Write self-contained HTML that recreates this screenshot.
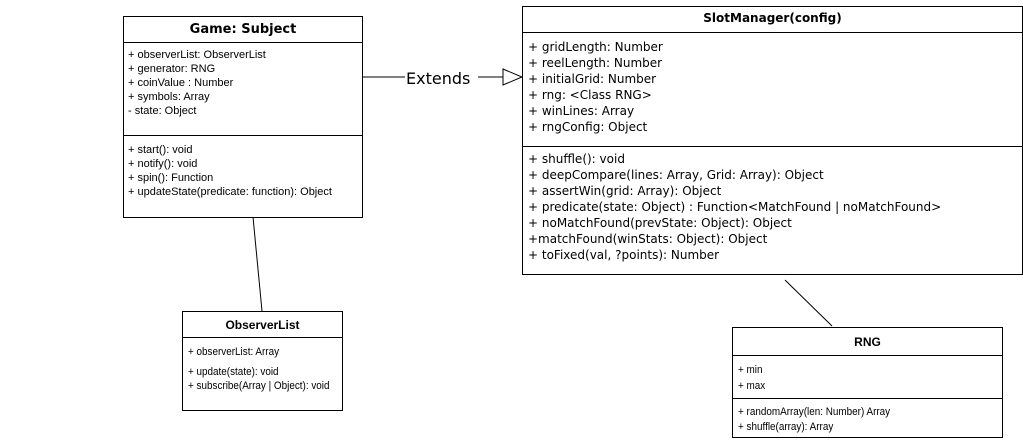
<!DOCTYPE html>
<html><head><meta charset="utf-8"><style>
body{margin:0;width:1023px;height:440px;background:#fff;position:relative;overflow:hidden;font-family:"Liberation Sans",sans-serif;color:#000}
.b{position:absolute;border:1px solid #000;background:#fff;box-sizing:border-box;overflow:hidden}
.h{position:absolute;left:0;right:0;border-top:1px solid #000}
.t{position:absolute;white-space:nowrap}
.s{font-size:11px;line-height:14px}
.v{font-family:"DejaVu Sans",sans-serif;font-size:12px;line-height:16px}
.n{font-family:"Liberation Sans",sans-serif;font-size:11px;line-height:14px;transform:scaleX(0.9);transform-origin:0 0}
</style></head><body>
<svg width="1023" height="440" style="position:absolute;left:0;top:0">
<line x1="362" y1="77" x2="405" y2="77" stroke="#000"/>
<line x1="478" y1="77" x2="503" y2="77" stroke="#000"/>
<polygon points="503,69 522,77 503,85" fill="#fff" stroke="#000"/>
<line x1="253" y1="217" x2="262" y2="311" stroke="#000"/>
<line x1="785" y1="280" x2="832" y2="326" stroke="#000"/>
<text x="406" y="84" font-family="DejaVu Sans, sans-serif" font-size="16">Extends</text>
</svg>

<div class="b" style="left:123px;top:16px;width:240px;height:202px">
<div class="t" style="left:0;right:0;top:5px;text-align:center;font-family:'DejaVu Sans',sans-serif;font-weight:bold;font-size:13px">Game: Subject</div>
<div class="h" style="top:25px"></div>
<div class="t s" style="left:4px;top:31px">+ observerList: ObserverList<br>+ generator: RNG<br>+ coinValue : Number<br>+ symbols: Array<br>- state: Object</div>
<div class="h" style="top:118px"></div>
<div class="t s" style="left:4px;top:126px">+ start(): void<br>+ notify(): void<br>+ spin(): Function<br>+ updateState(predicate: function): Object</div>
</div>

<div class="b" style="left:522px;top:6px;width:501px;height:269px">
<div class="t" style="left:0;right:0;top:4px;text-align:center;font-family:'DejaVu Sans',sans-serif;font-weight:bold;font-size:12px">SlotManager(config)</div>
<div class="h" style="top:25px"></div>
<div class="t v" style="left:5px;top:32px">+ gridLength: Number<br>+ reelLength: Number<br>+ initialGrid: Number<br>+ rng: &lt;Class RNG&gt;<br>+ winLines: Array<br>+ rngConfig: Object</div>
<div class="h" style="top:139px"></div>
<div class="t v" style="left:5px;top:144px">+ shuffle(): void<br>+ deepCompare(lines: Array, Grid: Array): Object<br>+ assertWin(grid: Array): Object<br>+ predicate(state: Object) : Function&lt;MatchFound | noMatchFound&gt;<br>+ noMatchFound(prevState: Object): Object<br>+matchFound(winStats: Object): Object<br>+ toFixed(val, ?points): Number</div>
</div>

<div class="b" style="left:182px;top:311px;width:161px;height:100px">
<div class="t" style="left:0;right:0;top:6px;text-align:center;font-weight:bold;font-size:12px">ObserverList</div>
<div class="h" style="top:25px"></div>
<div class="t n" style="left:5px;top:33px">+ observerList: Array</div>
<div class="t n" style="left:5px;top:53px">+ update(state): void<br>+ subscribe(Array | Object): void</div>
</div>

<div class="b" style="left:732px;top:327px;width:271px;height:111px">
<div class="t" style="left:0;right:0;top:7px;text-align:center;font-weight:bold;font-size:12px">RNG</div>
<div class="h" style="top:27px"></div>
<div class="t n" style="left:5px;top:34px;line-height:16px">+ min<br>+ max</div>
<div class="h" style="top:70px"></div>
<div class="t n" style="left:5px;top:77px;line-height:15px">+ randomArray(len: Number) Array<br>+ shuffle(array): Array</div>
</div>
</body></html>
